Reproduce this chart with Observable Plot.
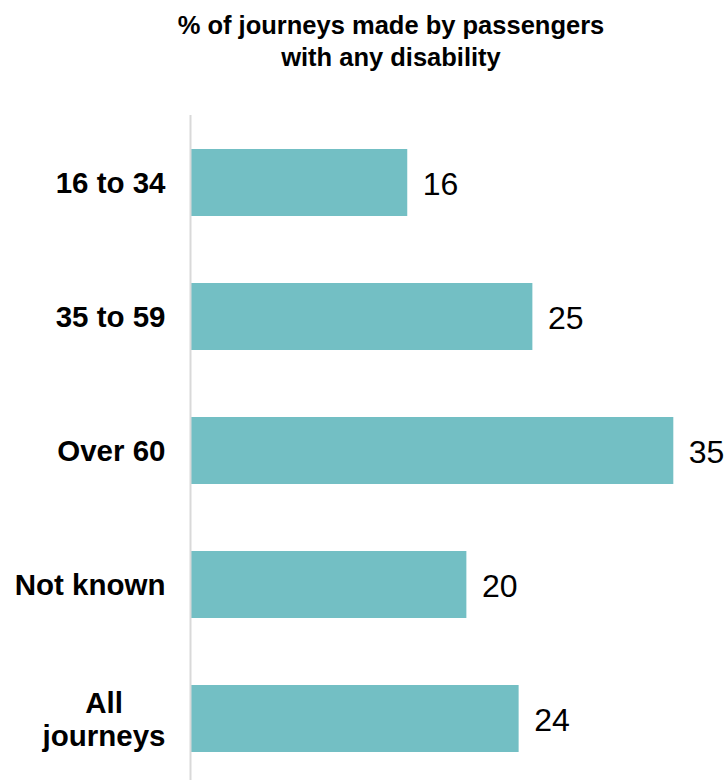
<!DOCTYPE html>
<html><head><meta charset="utf-8">
<script src="https://cdn.jsdelivr.net/npm/d3@7"></script>
<script src="https://cdn.jsdelivr.net/npm/@observablehq/plot@0.6"></script>
<style>
body{margin:0;background:#fff;font-family:"Liberation Sans",Arial,sans-serif;}
#title{box-sizing:border-box;width:727px;height:80px;padding:9px 0 0 55px;text-align:center;font-weight:bold;font-size:25.5px;line-height:32px;color:#000;}
</style></head><body>
<div id="title">% of journeys made by passengers<br>with any disability</div>
<div id="chart"></div>
<script>
const categories = ["16 to 34", "35 to 59", "Over 60", "Not known", "All\njourneys"];
const values = [15.8, 24.9, 35.15, 20.1, 23.9];
const valueLabels = ["16", "25", "35", "20", "24"];
const data = categories.map((c, i) => ({category: c, value: values[i], label: valueLabels[i]}));

const plot = Plot.plot({
  width: 727,
  height: 700,
  marginTop: 35,
  marginBottom: -5,
  marginLeft: 190,
  marginRight: 0,
  style: {fontFamily: '"Liberation Sans", Arial, sans-serif', background: "white", color: "#000", overflow: "visible"},
  x: {domain: [0, 40], range: [190, 740], axis: null},
  y: {domain: categories, paddingInner: 0.5, paddingOuter: 0.25, axis: null},
  marks: [
    Plot.barX(data, {x: "value", y: "category", fill: "#73bfc4"}),
    Plot.ruleX([0], {stroke: "#d9d9d9", strokeWidth: 2}),
    Plot.text(data, {x: "value", y: "category", text: "label", textAnchor: "start", dx: 15, dy: 2, fontSize: 32, fill: "#000"}),
    Plot.axisY({tickSize: 0, tickPadding: 25, fontSize: 29.5, fontWeight: "bold", lineHeight: 1.1, label: null, ariaLabel: "ylabels", fill: "#000"})
  ]
});
document.getElementById("chart").appendChild(plot);

// center the lines of multi-line category labels
plot.querySelectorAll("text").forEach(t => {
  const spans = t.querySelectorAll("tspan");
  if (spans.length > 1) {
    const lens = Array.from(spans, s => s.getComputedTextLength());
    const L = Math.max(...lens);
    spans.forEach((s, i) => s.setAttribute("dx", -(L - lens[i]) / 2));
  }
});
</script>
</body></html>
